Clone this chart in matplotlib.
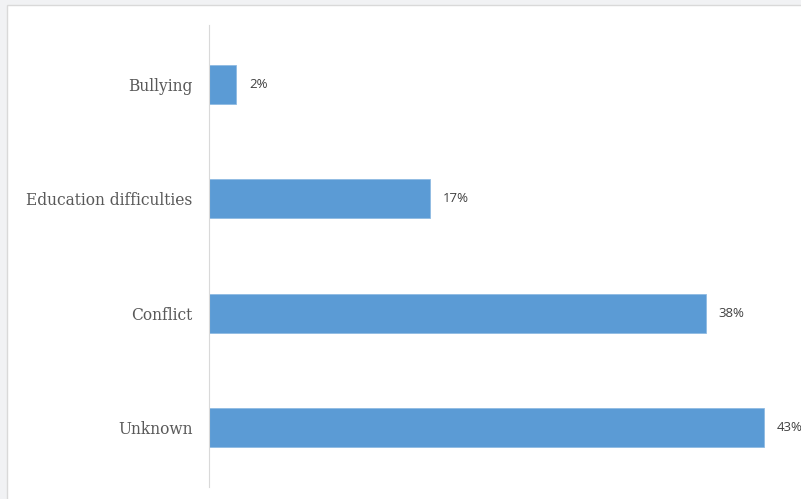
import matplotlib.pyplot as plt
from matplotlib.patches import Rectangle

categories = ["Bullying", "Education difficulties", "Conflict", "Unknown"]
values = [2.1, 17.1, 38.5, 43.0]
labels = ["2%", "17%", "38%", "43%"]

W, H = 801, 499
fig = plt.figure(figsize=(W / 100, H / 100), dpi=100)
fig.patch.set_facecolor("#f1f2f4")
fig.patches.append(Rectangle((7 / W, -0.01), 1.0, (H - 5) / H + 0.01, transform=fig.transFigure,
                             facecolor="white", edgecolor="#d9d9d9", linewidth=1, zorder=-5))

ax = fig.add_axes([209 / W, 12 / H, (W - 209) / W, 462 / H])
ax.set_zorder(1)
ax.set_facecolor("none")
pos = range(len(categories))
ax.barh(pos, values, height=0.34, color="#5b9bd5", edgecolor="#8fbbe3", linewidth=0.6)
for p, v, lab in zip(pos, values, labels):
    ax.text(v + 1.0, p, lab, va="center", ha="left", fontsize=9.5,
            family="Open Sans", color="#404040")

ax.set_xlim(0, (W - 209) / 12.9)
ax.set_ylim(3.52, -0.52)
ax.set_yticks(list(pos))
ax.set_yticklabels(categories, family="DejaVu Serif", fontsize=11.2, color="#595959")
ax.tick_params(axis="y", length=0, pad=12)
ax.set_xticks([])
for s in ["top", "right", "bottom"]:
    ax.spines[s].set_visible(False)
ax.spines["left"].set_color("#d9d9d9")

fig.savefig("out.png", dpi=100)
